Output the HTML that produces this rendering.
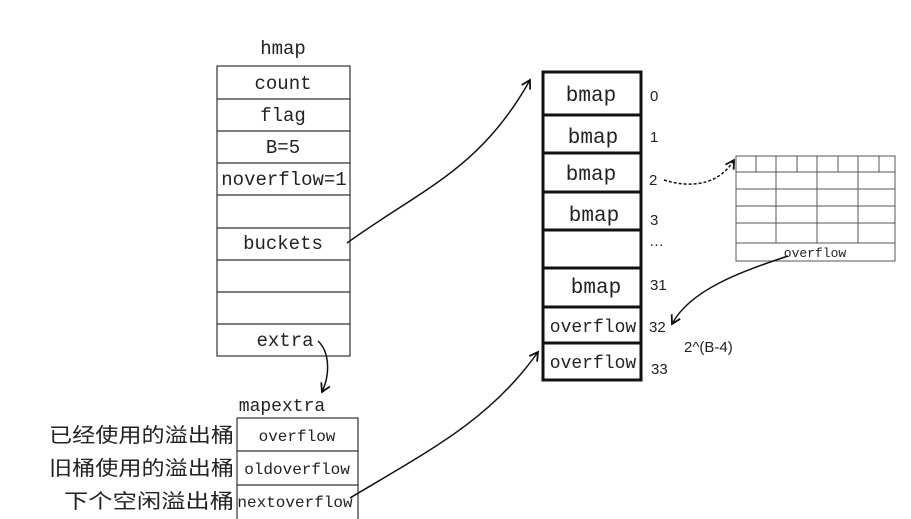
<!DOCTYPE html>
<html><head><meta charset="utf-8"><style>
html,body{margin:0;padding:0;background:#fff;}
svg{display:block}
text{font-family:"Liberation Mono",monospace;fill:#222}
.s{font-family:"Liberation Sans",sans-serif}
.c{font-family:"Liberation Sans","Noto Sans CJK SC",sans-serif}
</style></head><body>
<svg width="911" height="519" viewBox="0 0 911 519" xmlns="http://www.w3.org/2000/svg">
<defs>
<marker id="a" viewBox="0 0 10 10" refX="8" refY="5" markerWidth="8" markerHeight="8" orient="auto"><path d="M1,1 L8,5 L1,9" fill="none" stroke="#111" stroke-width="1.5"/></marker>
</defs>
<!-- hmap -->
<text x="283" y="54" font-size="19" text-anchor="middle">hmap</text>
<g fill="none" stroke="#333" stroke-width="1.2">
<rect x="217" y="66" width="133" height="290"/>
<path d="M217 99H350M217 131H350M217 163H350M217 195H350M217 228H350M217 260H350M217 292H350M217 324H350"/>
</g>
<g font-size="19" text-anchor="middle">
<text x="283" y="89">count</text>
<text x="283" y="121">flag</text>
<text x="283" y="153">B=5</text>
<text x="284" y="185">noverflow=1</text>
<text x="283" y="249">buckets</text>
<text x="285" y="346">extra</text>
</g>
<!-- mapextra -->
<text x="282" y="411" font-size="18" text-anchor="middle">mapextra</text>
<g fill="none" stroke="#333" stroke-width="1.2">
<rect x="237" y="418" width="121" height="102"/>
<path d="M237 451H358M237 485H358"/>
</g>
<g font-size="16" text-anchor="middle">
<text x="297" y="441">overflow</text>
<text x="297" y="474">oldoverflow</text>
<text x="295" y="507">nextoverflow</text>
</g>
<g font-size="20" text-anchor="end">
<text class="c" x="234" y="442" textLength="185" lengthAdjust="spacingAndGlyphs">已经使用的溢出桶</text>
<text class="c" x="234" y="475" textLength="185" lengthAdjust="spacingAndGlyphs">旧桶使用的溢出桶</text>
<text class="c" x="234" y="508" textLength="170" lengthAdjust="spacingAndGlyphs">下个空闲溢出桶</text>
</g>
<!-- buckets array -->
<g fill="none" stroke="#111" stroke-width="3">
<rect x="543" y="72" width="98" height="308"/>
<path d="M543 115H641M543 153H641M543 192H641M543 230H641M543 268H641M543 307H641M543 343H641"/>
</g>
<g font-size="21" text-anchor="middle">
<text x="591" y="101">bmap</text>
<text x="593" y="143">bmap</text>
<text x="591" y="180">bmap</text>
<text x="594" y="221">bmap</text>
<text x="596" y="293">bmap</text>
</g>
<g font-size="18" text-anchor="middle">
<text x="593" y="332">overflow</text>
<text x="593" y="368">overflow</text>
</g>
<g font-size="15" fill="#333">
<text class="s" x="650" y="101">0</text>
<text class="s" x="650" y="142">1</text>
<text class="s" x="649" y="185">2</text>
<text class="s" x="650" y="225">3</text>
<text class="s" x="649" y="246">…</text>
<text class="s" x="650" y="290">31</text>
<text class="s" x="649" y="332">32</text>
<text class="s" x="651" y="374">33</text>
<text class="s" x="684" y="352">2^(B-4)</text>
</g>
<!-- small grid -->
<g fill="none" stroke="#555" stroke-width="1">
<rect x="736" y="156" width="159" height="105"/>
<path d="M736 172H895M736 189H895M736 206H895M736 223H895M736 243H895"/>
<path d="M756 156V172M776 156V172M797 156V172M817 156V172M838 156V172M858 156V172M879 156V172"/>
<path d="M776 172V243M817 172V243M858 172V243"/>
</g>
<text x="815" y="257" font-size="13" text-anchor="middle" fill="#555">overflow</text>
<!-- arrows -->
<g fill="none" stroke="#111" stroke-width="1.5">
<path d="M347 243 C420 190 480 170 530 80" marker-end="url(#a)"/>
<path d="M350 498 C430 450 490 420 538 352" marker-end="url(#a)"/>
<path d="M318 341 C330 352 330 375 322 392" marker-end="url(#a)"/>
<path d="M788 256 C740 272 690 290 672 324" marker-end="url(#a)"/>
<path d="M664 180 C690 188 718 186 734 160" stroke-dasharray="3,2" marker-end="url(#a)"/>
</g>
</svg>
</body></html>
